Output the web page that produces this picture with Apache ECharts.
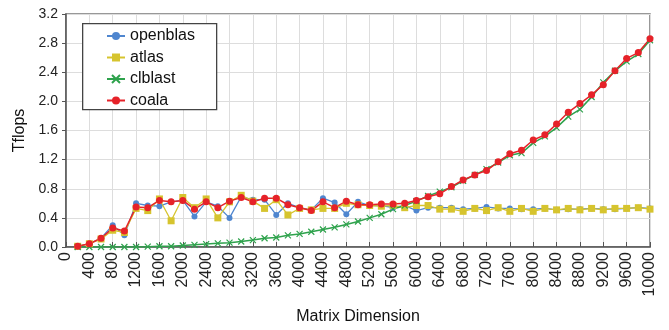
<!DOCTYPE html>
<html>
<head>
<meta charset="utf-8">
<script src="https://cdn.jsdelivr.net/npm/echarts@6/dist/echarts.min.js"></script>
<style>html,body{margin:0;padding:0;background:#fff}#c{width:669px;height:330px}</style>
</head>
<body>
<div id="c"></div>
<script>
const dims = [200,400,600,800,1000,1200,1400,1600,1800,2000,2200,2400,2600,2800,3000,3200,3400,3600,3800,4000,4200,4400,4600,4800,5000,5200,5400,5600,5800,6000,6200,6400,6600,6800,7000,7200,7400,7600,7800,8000,8200,8400,8600,8800,9000,9200,9400,9600,9800,10000];
const openblas = [0.01,0.045,0.12,0.30,0.16,0.60,0.57,0.56,0.62,0.64,0.42,0.62,0.56,0.40,0.69,0.65,0.65,0.44,0.60,0.54,0.51,0.67,0.61,0.45,0.62,0.57,0.57,0.54,0.57,0.50,0.54,0.54,0.54,0.52,0.53,0.55,0.53,0.53,0.52,0.52,0.53,0.51,0.52,0.52,0.53,0.52,0.52,0.53,0.54,0.53];
const atlas = [0.01,0.045,0.11,0.23,0.20,0.53,0.50,0.66,0.36,0.68,0.54,0.66,0.40,0.62,0.71,0.63,0.53,0.65,0.44,0.53,0.51,0.53,0.53,0.60,0.58,0.57,0.56,0.57,0.54,0.57,0.57,0.52,0.52,0.49,0.53,0.50,0.54,0.49,0.53,0.49,0.53,0.51,0.53,0.51,0.53,0.51,0.53,0.53,0.54,0.52];
const clblast = [0.0,0.0,0.0,0.0,0.0,0.0,0.005,0.01,0.01,0.02,0.03,0.04,0.05,0.06,0.075,0.095,0.12,0.13,0.16,0.18,0.21,0.24,0.27,0.31,0.35,0.40,0.45,0.52,0.57,0.63,0.70,0.76,0.82,0.91,0.99,1.07,1.16,1.26,1.29,1.43,1.52,1.64,1.79,1.89,2.06,2.26,2.42,2.55,2.65,2.84];
const coala = [0.01,0.045,0.12,0.26,0.22,0.55,0.54,0.64,0.62,0.64,0.52,0.62,0.54,0.63,0.68,0.62,0.67,0.67,0.58,0.54,0.50,0.62,0.54,0.63,0.58,0.58,0.59,0.59,0.60,0.64,0.69,0.73,0.83,0.92,0.99,1.05,1.17,1.28,1.33,1.47,1.54,1.69,1.85,1.97,2.09,2.23,2.42,2.59,2.67,2.86];
const seriesNames = ['openblas','atlas','clblast','coala'];
const xTitle = 'Matrix Dimension';
const yTitle = 'Tflops';

const font = "'Liberation Sans', Arial, Helvetica, sans-serif";
const colors = ['#4f86cf','#d6c42e','#2ea24c','#e62229'];
const pair = arr => dims.map((d,i)=>[d,arr[i]]);

const chart = echarts.init(document.getElementById('c'), null, {renderer:'canvas'});
chart.setOption({
  animation:false,
  textStyle:{fontFamily:font},
  grid:{left:66,right:19,top:14,bottom:78,show:true,borderColor:'#777',borderWidth:1.5,containLabel:false},
  graphic:[{type:'rect',left:82,top:23,z:3,shape:{width:134,height:86},style:{fill:'#fff',stroke:'#444',lineWidth:1.3}}],
  legend:{orient:'vertical',left:106,top:28,padding:0,itemWidth:18,itemHeight:10,itemGap:5.5,z:5,
    textStyle:{fontSize:16,color:'#111',fontFamily:font},data:seriesNames},
  xAxis:{type:'value',min:0,max:10000,interval:400,
    name:xTitle,nameLocation:'middle',nameGap:62,nameTextStyle:{fontSize:16,color:'#111',fontFamily:font},
    axisLine:{show:true,lineStyle:{color:'#555',width:1.5}},
    axisTick:{show:true,inside:true,length:5,lineStyle:{color:'#555'}},
    axisLabel:{rotate:90,fontSize:16,color:'#222',margin:5,fontFamily:font,formatter:v=>String(v)},
    splitLine:{show:true,lineStyle:{color:'#dddddd',width:1}}},
  yAxis:{type:'value',min:0,max:3.2,interval:0.4,
    name:yTitle,nameLocation:'middle',nameGap:35,nameTextStyle:{fontSize:16,color:'#111',fontFamily:font},
    axisLine:{show:true,lineStyle:{color:'#555',width:1.5}},
    axisTick:{show:true,inside:false,length:4,lineStyle:{color:'#555'}},
    axisLabel:{fontSize:14,color:'#222',margin:8,formatter:v=>v.toFixed(1),fontFamily:font},
    splitLine:{show:true,lineStyle:{color:'#dddddd',width:1}}},
  series:[
    {name:seriesNames[0],type:'line',data:pair(openblas),symbol:'circle',symbolSize:6,
      lineStyle:{color:colors[0],width:1.3},itemStyle:{color:colors[0]}},
    {name:seriesNames[1],type:'line',data:pair(atlas),symbol:'rect',symbolSize:7,
      lineStyle:{color:colors[1],width:1.3},itemStyle:{color:colors[1]}},
    {name:seriesNames[2],type:'line',data:pair(clblast),symbol:'path://M0,0L10,10M10,0L0,10',symbolSize:6,
      lineStyle:{color:colors[2],width:1.5},itemStyle:{color:colors[2],borderColor:colors[2],borderWidth:1.2}},
    {name:seriesNames[3],type:'line',data:pair(coala),symbol:'circle',symbolSize:7,
      lineStyle:{color:colors[3],width:1.5},itemStyle:{color:colors[3]}}
  ]
});
</script>
</body>
</html>
